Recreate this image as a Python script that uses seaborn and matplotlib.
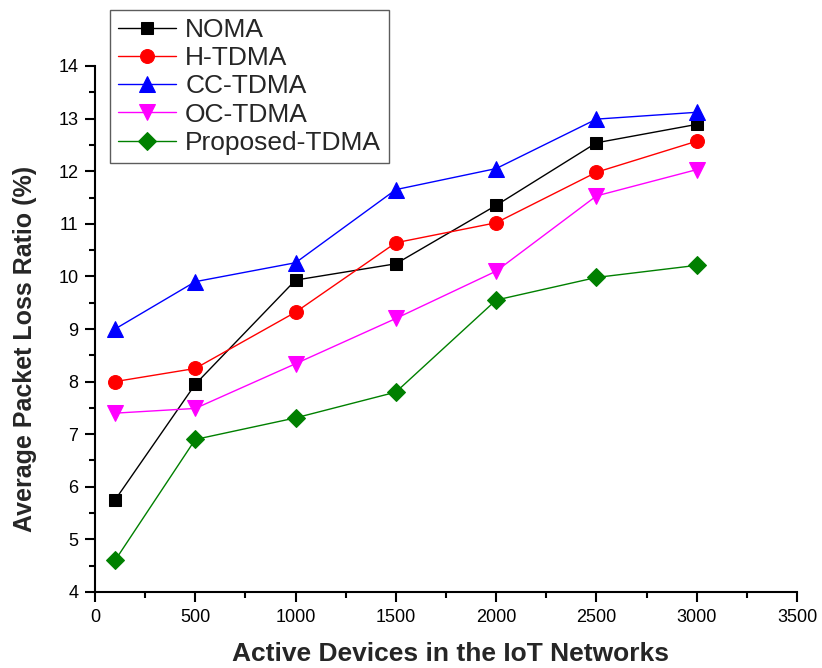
import matplotlib
matplotlib.use("Agg")
import matplotlib.pyplot as plt
import seaborn as sns
import pandas as pd
from matplotlib.ticker import MultipleLocator

devices = [100, 500, 1000, 1500, 2000, 2500, 3000]
noma = [5.75, 7.95, 9.93, 10.24, 11.35, 12.54, 12.89]
h_tdma = [8.0, 8.25, 9.32, 10.64, 11.02, 11.98, 12.57]
cc_tdma = [9.0, 9.9, 10.26, 11.65, 12.05, 12.99, 13.12]
oc_tdma = [7.4, 7.49, 8.34, 9.2, 10.1, 11.53, 12.03]
proposed = [4.6, 6.9, 7.31, 7.8, 9.55, 9.98, 10.21]

series_names = ["NOMA", "H-TDMA", "CC-TDMA", "OC-TDMA", "Proposed-TDMA"]
series_values = [noma, h_tdma, cc_tdma, oc_tdma, proposed]
colors = ["black", "red", "blue", "magenta", "green"]
markers = ["s", "o", "^", "v", "D"]
msizes = [9, 10, 11, 11, 9]

rows = []
for name, vals in zip(series_names, series_values):
    for x, y in zip(devices, vals):
        rows.append({"Devices": x, "Ratio": y, "Scheme": name})
df = pd.DataFrame(rows)

sns.set_style("ticks")
plt.rcParams["font.family"] = ["Liberation Sans", "DejaVu Sans"]

fig = plt.figure(figsize=(8.22, 6.68), dpi=100)
ax = fig.add_axes([95/822, 1-592/668, (797-95)/822, (592-66)/668])

for name, c, m, ms in zip(series_names, colors, markers, msizes):
    sub = df[df["Scheme"] == name]
    sns.lineplot(data=sub, x="Devices", y="Ratio", ax=ax, color=c, marker=m,
                 markersize=ms, markeredgecolor=c, linewidth=1.0, label=name)

ax.set_xlim(0, 3500)
ax.set_ylim(4, 14)
ax.xaxis.set_major_locator(MultipleLocator(500))
ax.xaxis.set_minor_locator(MultipleLocator(250))
ax.yaxis.set_major_locator(MultipleLocator(1))
ax.yaxis.set_minor_locator(MultipleLocator(0.5))
ax.tick_params(which="major", length=7, width=1.5, labelsize=13, pad=5, direction="out", colors="black")
ax.tick_params(which="minor", length=4, width=1.5, direction="out", colors="black")
for s in ["top", "right"]:
    ax.spines[s].set_visible(False)
for s in ["left", "bottom"]:
    ax.spines[s].set_linewidth(1.5)
    ax.spines[s].set_color("black")

ax.set_xlabel("Active Devices in the IoT Networks", fontsize=19, fontweight="bold")
ax.set_ylabel("Average Packet Loss Ratio (%)", fontsize=18, fontweight="bold")
ax.xaxis.set_label_coords(0.507, -0.095)
ax.yaxis.set_label_coords(-0.083, 0.462)

leg = ax.legend(loc="upper left", bbox_to_anchor=(110/822, 1-10/668),
                bbox_transform=fig.transFigure, borderaxespad=0, fontsize=19, frameon=True,
                fancybox=False, edgecolor="#333333", handlelength=2.2,
                labelspacing=0.16, borderpad=0.3, handletextpad=0.35)
leg.get_frame().set_linewidth(1.0)

fig.savefig("out.png", dpi=100)
